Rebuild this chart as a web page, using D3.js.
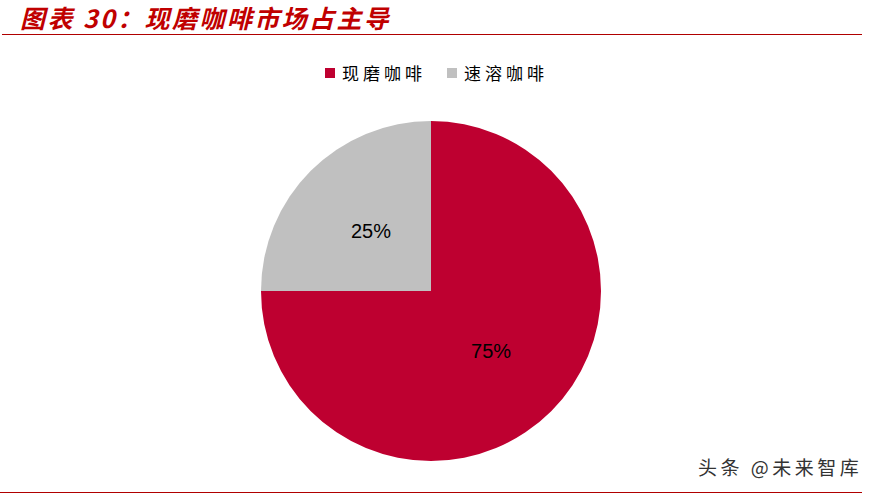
<!DOCTYPE html>
<html><head><meta charset="utf-8">
<script src="https://cdn.jsdelivr.net/npm/d3@7"></script>
<style>body{margin:0;background:#fff}svg{display:block}</style>
</head><body>
<svg id="c" width="873" height="496"></svg>
<script>
const categories = ["现磨咖啡", "速溶咖啡"];
const values = [75, 25];
const labels = ["75%", "25%"];
const colors = ["#BE0030", "#C0C0C0"];

const svg = d3.select("#c");

// Title
svg.append("text").attr("x", 20).attr("y", 28)
  .attr("font-family", "'Noto Sans CJK SC', sans-serif")
  .attr("font-size", 25).attr("font-weight", "bold").attr("font-style", "italic")
  .attr("letter-spacing", 2.4)
  .attr("fill", "#C00000")
  .text("图表 30：现磨咖啡市场占主导");
svg.append("line").attr("x1", 2).attr("x2", 862).attr("y1", 34.5).attr("y2", 34.5)
  .attr("stroke", "#B00000").attr("stroke-width", 1.2);
svg.append("line").attr("x1", 0).attr("x2", 862).attr("y1", 492.5).attr("y2", 492.5)
  .attr("stroke", "#B00000").attr("stroke-width", 1.2);

// Legend
const legendX = [325, 447];
const lg = svg.append("g");
categories.forEach((c, i) => {
  lg.append("rect").attr("x", legendX[i]).attr("y", 68).attr("width", 10).attr("height", 10).attr("fill", colors[i]);
  lg.append("text").attr("x", legendX[i] + 17).attr("y", 80)
    .attr("font-family", "'Noto Sans CJK SC', sans-serif").attr("font-size", 17)
    .attr("letter-spacing", 4)
    .attr("fill", "#000").text(c);
});

// Pie
const cx = 431, cy = 291, r = 170;
const pie = d3.pie().sort(null).value(d => d)(values);
const arc = d3.arc().innerRadius(0).outerRadius(r);
const g = svg.append("g").attr("transform", `translate(${cx},${cy})`);
g.selectAll("path").data(pie).join("path")
  .attr("d", arc).attr("fill", (d, i) => colors[i]);
g.selectAll("text").data(pie).join("text")
  .attr("transform", d => `translate(${arc.centroid(d)})`)
  .attr("text-anchor", "middle").attr("dy", "0.35em")
  .attr("font-family", "Liberation Sans, Arial, sans-serif").attr("font-size", 20)
  .attr("fill", "#000")
  .text((d, i) => labels[i]);

// Watermark
svg.append("text").attr("x", 698).attr("y", 475)
  .attr("font-family", "'Noto Sans CJK SC', sans-serif").attr("font-size", 19)
  .attr("letter-spacing", 3.5)
  .attr("fill", "#333").text("头条 @未来智库");
</script>
</body></html>
